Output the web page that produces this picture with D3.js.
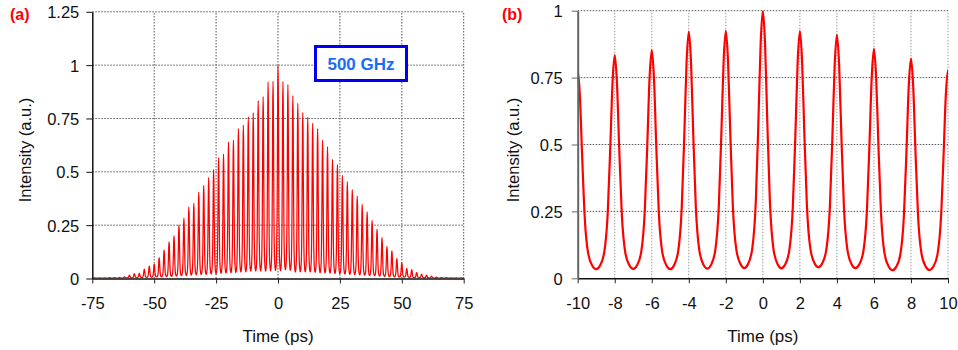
<!DOCTYPE html>
<html>
<head>
<meta charset="utf-8">
<script src="https://cdn.jsdelivr.net/npm/d3@7"></script>
<style>
  body { margin: 0; background: #fff; }
  svg text { font-family: "Liberation Sans", Arial, sans-serif; }
</style>
</head>
<body>
<svg id="chart" width="958" height="350"></svg>
<script>
// === DATA ===
// pulse peaks, one every 2 ps (500 GHz)
const peakTimes = [-74,-72,-70,-68,-66,-64,-62,-60,-58,-56,-54,-52,-50,-48,-46,-44,-42,-40,-38,-36,-34,-32,-30,-28,-26,-24,-22,-20,-18,-16,-14,-12,-10,-8,-6,-4,-2,
  0,2,4,6,8,10,12,14,16,18,20,22,24,26,28,30,32,34,36,38,40,42,44,46,48,50,52,54,56,58,60,62,64,66,68,70,72,74];
const peakValues = [0.003,0.003,0.003,0.004,0.004,0.005,0.008,0.016,0.023,0.024,0.044,0.058,0.067,0.098,0.133,0.172,0.2,0.25,0.283,0.336,0.352,0.405,0.436,0.473,0.511,0.565,0.583,0.639,0.648,0.703,0.719,0.758,0.776,0.834,0.853,0.922,0.925,
  1.0,0.924,0.91,0.857,0.821,0.778,0.755,0.727,0.703,0.648,0.617,0.558,0.534,0.484,0.453,0.417,0.386,0.348,0.312,0.273,0.231,0.192,0.151,0.13,0.094,0.073,0.047,0.042,0.028,0.02,0.016,0.011,0.007,0.005,0.004,0.003,0.003,0.003];
// minima between the pulses
const troughTimes = [-75,-73,-71,-69,-67,-65,-63,-61,-59,-57,-55,-53,-51,-49,-47,-45,-43,-41,-39,-37,-35,-33,-31,-29,-27,-25,-23,-21,-19,-17,-15,-13,-11,-9,-7,-5,-3,-1,
  1,3,5,7,9,11,13,15,17,19,21,23,25,27,29,31,33,35,37,39,41,43,45,47,49,51,53,55,57,59,61,63,65,67,69,71,73,75];
const troughValues = [0.002,0.002,0.002,0.002,0.002,0.002,0.002,0.003,0.003,0.004,0.004,0.005,0.006,0.007,0.008,0.009,0.01,0.011,0.013,0.014,0.016,0.017,0.018,0.019,0.021,0.022,0.024,0.025,0.027,0.028,0.03,0.031,0.033,0.034,0.035,0.034,0.036,0.038,
  0.037,0.041,0.038,0.03,0.031,0.031,0.03,0.028,0.027,0.026,0.025,0.023,0.022,0.02,0.019,0.018,0.017,0.015,0.014,0.013,0.011,0.01,0.009,0.008,0.007,0.006,0.005,0.004,0.004,0.003,0.003,0.002,0.002,0.002,0.002,0.002,0.002,0.002];
// single pulse profile: offset from peak (ps), fraction of height above the minimum
const pulseOffsets = [0, 0.12, 0.24, 0.38, 0.57, 0.8];
const pulseShape = [1, 0.87, 0.57, 0.26, 0.077, 0.016];

const xTicksA = [-75, -50, -25, 0, 25, 50, 75];
const yTicksA = [0, 0.25, 0.5, 0.75, 1, 1.25];
const xTicksB = [-10, -8, -6, -4, -2, 0, 2, 4, 6, 8, 10];
const yTicksB = [0, 0.25, 0.5, 0.75, 1];

// === BUILD TRACE ===
function buildTrace() {
  const pts = [];
  peakTimes.forEach((tp, i) => {
    const P = peakValues[i];
    const TL = troughValues[i], TR = troughValues[i + 1];
    pts.push([troughTimes[i], TL]);
    for (let k = pulseOffsets.length - 1; k >= 1; k--)
      pts.push([tp - pulseOffsets[k], TL + (P - TL) * pulseShape[k]]);
    pts.push([tp, P]);
    for (let k = 1; k < pulseOffsets.length; k++)
      pts.push([tp + pulseOffsets[k], TR + (P - TR) * pulseShape[k]]);
  });
  pts.push([troughTimes[troughTimes.length - 1], troughValues[troughValues.length - 1]]);
  return pts;
}
const trace = buildTrace();

const svg = d3.select("#chart");
svg.append("rect").attr("width", 958).attr("height", 350).attr("fill", "#fff");

// === PANEL ===
function drawPanel(o) {
  const x = d3.scaleLinear().domain(o.xDomain).range(o.xRange);
  const y = d3.scaleLinear().domain(o.yDomain).range(o.yRange);
  const g = svg.append("g");

  g.append("clipPath").attr("id", o.id + "-clip")
    .append("rect")
    .attr("x", o.xRange[0]).attr("y", o.yRange[1])
    .attr("width", o.xRange[1] - o.xRange[0]).attr("height", o.yRange[0] - o.yRange[1]);

  // grid
  g.selectAll(".vgrid").data(o.xTicks.slice(1)).join("line")
    .attr("x1", d => x(d)).attr("x2", d => x(d))
    .attr("y1", o.yRange[0]).attr("y2", o.yRange[1])
    .attr("stroke", o.vGridColor).attr("stroke-width", 1).attr("stroke-dasharray", "1.5,1.5");
  g.selectAll(".hgrid").data(o.yTicks.slice(1)).join("line")
    .attr("x1", o.xRange[0]).attr("x2", o.xRange[1])
    .attr("y1", d => y(d)).attr("y2", d => y(d))
    .attr("stroke", "#555").attr("stroke-width", 1).attr("stroke-dasharray", "1.5,1.5");

  // trace
  const line = d3.line().x(d => x(d[0])).y(d => y(d[1])).curve(d3.curveMonotoneX);
  const data = trace.filter(d => d[0] >= o.xDomain[0] - 1.5 && d[0] <= o.xDomain[1] + 1.5);
  g.append("path").datum(data)
    .attr("clip-path", `url(#${o.id}-clip)`)
    .attr("d", line)
    .attr("fill", "none").attr("stroke", "#ff0000")
    .attr("stroke-width", o.lineWidth).attr("stroke-linejoin", "round");

  // axes
  const xAxis = g.append("g").attr("transform", `translate(0,${o.yRange[0]})`)
    .call(d3.axisBottom(x).tickValues(o.xTicks).tickSize(5).tickSizeOuter(0).tickPadding(14).tickFormat(d => String(d)));
  const yAxis = g.append("g").attr("transform", `translate(${o.xRange[0]},0)`)
    .call(d3.axisLeft(y).tickValues(o.yTicks).tickSize(6).tickSizeOuter(0).tickPadding(o.yPad).tickFormat(d => String(d)));
  [xAxis, yAxis].forEach(a => {
    a.selectAll("text").attr("font-size", 16.5).attr("fill", "#111")
      .attr("font-family", "Liberation Sans, Arial, sans-serif");
    a.selectAll(".tick line").attr("stroke", "#222");
  });
  yAxis.selectAll("text").attr("dy", "0.36em");
  xAxis.select(".domain").attr("stroke", "#111").attr("stroke-width", 1.5);
  yAxis.select(".domain").attr("stroke", o.yAxisColor).attr("stroke-width", o.yAxisWidth);
  yAxis.selectAll(".tick line").attr("stroke", o.yAxisColor);

  // titles
  g.append("text").text("Time (ps)")
    .attr("x", (o.xRange[0] + o.xRange[1]) / 2).attr("y", 342)
    .attr("text-anchor", "middle").attr("font-size", 17).attr("fill", "#111");
  g.append("text").text("Intensity (a.u.)")
    .attr("transform", `translate(${o.yTitleX},150) rotate(-90)`)
    .attr("text-anchor", "middle").attr("font-size", 16.5).attr("fill", "#111");
  g.append("text").text(o.label)
    .attr("x", o.labelX).attr("y", 20)
    .attr("font-size", 16).attr("font-weight", "bold").attr("fill", "#ff0000");
  return { x, y };
}

drawPanel({
  id: "a", label: "(a)", labelX: 10, yTitleX: 31,
  xDomain: [-75, 75], xRange: [92.3, 463.7],
  yDomain: [0, 1.25], yRange: [278.5, 11.8],
  xTicks: xTicksA, yTicks: yTicksA, yPad: 7,
  vGridColor: "#555", yAxisColor: "#111", yAxisWidth: 1.5, lineWidth: 1.25
});

drawPanel({
  id: "b", label: "(b)", labelX: 502, yTitleX: 519,
  xDomain: [-10, 10], xRange: [577.7, 948],
  yDomain: [0, 1], yRange: [278.3, 10.7],
  xTicks: xTicksB, yTicks: yTicksB, yPad: 9,
  vGridColor: "#999", yAxisColor: "#666", yAxisWidth: 2, lineWidth: 2.2
});

// === 500 GHz BOX ===
svg.append("rect")
  .attr("x", 315.5).attr("y", 46.5).attr("width", 91).attr("height", 34)
  .attr("fill", "#fff").attr("stroke", "#0000ee").attr("stroke-width", 3);
svg.append("text").text("500 GHz")
  .attr("x", 361).attr("y", 70)
  .attr("text-anchor", "middle").attr("font-size", 17).attr("font-weight", "bold")
  .attr("fill", "#1a6cf5");
</script>
</body>
</html>
